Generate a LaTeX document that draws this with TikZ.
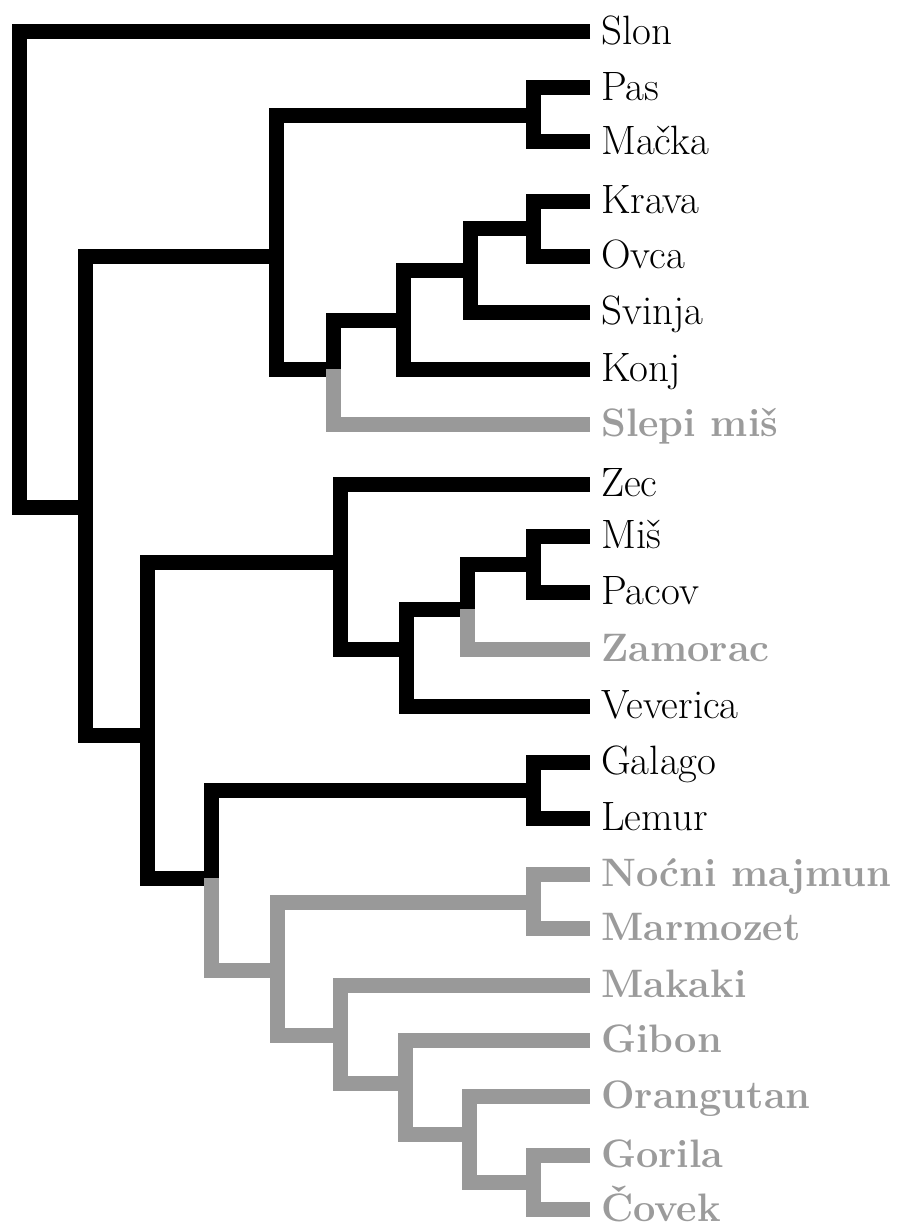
\documentclass[tikz,border=0pt]{standalone}
\usepackage{fontspec}
\begin{document}
\begin{tikzpicture}[x=1pt,y=-1pt,
  br/.style={line width=15pt,line join=miter,line cap=butt,draw=black},
  gbr/.style={br,draw=branchgrey},
  leaf/.style={anchor=base west,inner sep=0pt,font=\fontsize{41}{41}\selectfont},
  gleaf/.style={leaf,text=labelgrey,font=\fontsize{39.7}{40}\selectfont\bfseries}]
\definecolor{branchgrey}{RGB}{153,153,153}
\definecolor{labelgrey}{RGB}{155,155,155}
\useasboundingbox (0,0) rectangle (898,1225);

% leaf tips and their labels
\foreach \n/\y/\t/\s in {
  slon/32/Slon/leaf, pas/88/Pas/leaf, macka/142/Mačka/leaf,
  krava/201/Krava/leaf, ovca/256/Ovca/leaf, svinja/312/Svinja/leaf,
  konj/369/Konj/leaf, slepi/424/Slepi miš/gleaf, zec/484/Zec/leaf,
  mis/536/Miš/leaf, pacov/592/Pacov/leaf, zamorac/649/Zamorac/gleaf,
  veverica/706/Veverica/leaf, galago/762/Galago/leaf, lemur/818/Lemur/leaf,
  nocni/874/Noćni majmun/gleaf, marmozet/928/Marmozet/gleaf,
  makaki/985/Makaki/gleaf, gibon/1040/Gibon/gleaf,
  orangutan/1096/Orangutan/gleaf, gorila/1155/Gorila/gleaf,
  covek/1209/Čovek/gleaf}{
  \coordinate (t\n) at (590,\y);
  \node[\s] (l\n) at (601,\y+12.5) {\t};
}

% internal nodes: (x of vertical bar, y where the parent branch joins)
\coordinate (R)  at (19,507);
\coordinate (A)  at (85,507);
\coordinate (B)  at (276,256);
\coordinate (PM) at (533,116);
\coordinate (C)  at (333,369);
\coordinate (D)  at (403,320);
\coordinate (E)  at (470,270);
\coordinate (KO) at (533,228);
\coordinate (F)  at (147,735);
\coordinate (G)  at (340,562);
\coordinate (H)  at (406,649);
\coordinate (I)  at (467,609);
\coordinate (MP) at (533,564);
\coordinate (J)  at (211,878);
\coordinate (GL) at (533,790);
\coordinate (K)  at (277,970);
\coordinate (NM) at (533,902);
\coordinate (L)  at (340,1035);
\coordinate (M)  at (405,1083);
\coordinate (N)  at (469,1134);
\coordinate (GC) at (533,1182);

% root
\draw[br] (tslon) -| (R) -- (A);
% A
\draw[br] (A) |- (B);
\draw[br] (A) |- (F);
% B
\draw[br] (B) |- (PM);
\draw[br] (B) |- (C);
\draw[br] (PM) |- (tpas);
\draw[br] (PM) |- (tmacka);
% C
\draw[br] (C) |- (D);
\draw[gbr] (C) |- (tslepi);
\draw[br] (D) |- (E);
\draw[br] (D) |- (tkonj);
\draw[br] (E) |- (KO);
\draw[br] (E) |- (tsvinja);
\draw[br] (KO) |- (tkrava);
\draw[br] (KO) |- (tovca);
% F
\draw[br] (F) |- (G);
\draw[br] (F) |- (J);
\draw[br] (G) |- (tzec);
\draw[br] (G) |- (H);
\draw[br] (H) |- (I);
\draw[br] (H) |- (tveverica);
\draw[br] (I) |- (MP);
\draw[gbr] (I) |- (tzamorac);
\draw[br] (MP) |- (tmis);
\draw[br] (MP) |- (tpacov);
% J
\draw[br] (J) |- (GL);
\draw[gbr] (J) |- (K);
\draw[br] (GL) |- (tgalago);
\draw[br] (GL) |- (tlemur);
% primates
\draw[gbr] (K) |- (NM);
\draw[gbr] (K) |- (L);
\draw[gbr] (NM) |- (tnocni);
\draw[gbr] (NM) |- (tmarmozet);
\draw[gbr] (L) |- (tmakaki);
\draw[gbr] (L) |- (M);
\draw[gbr] (M) |- (tgibon);
\draw[gbr] (M) |- (N);
\draw[gbr] (N) |- (torangutan);
\draw[gbr] (N) |- (GC);
\draw[gbr] (GC) |- (tgorila);
\draw[gbr] (GC) |- (tcovek);
\end{tikzpicture}
\end{document}
